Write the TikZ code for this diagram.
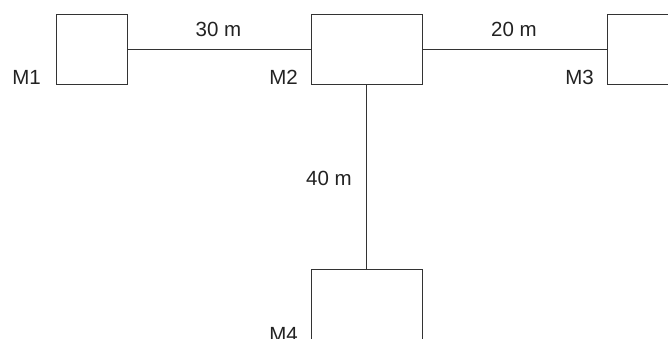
\documentclass[tikz,border=0pt]{standalone}
\usepackage{fontspec}
\setmainfont{Liberation Sans}
\definecolor{ln}{HTML}{333333}
\definecolor{tx}{HTML}{222222}
\begin{document}
\begin{tikzpicture}[x=1pt,y=-1pt,
  machine/.style={draw=ln,line width=1pt,rectangle,inner sep=0pt,minimum height=70pt},
  conn/.style={draw=ln,line width=1pt},
  lbl/.style={text=tx,font=\fontsize{20.5}{24}\selectfont,inner sep=0pt}]
\useasboundingbox (0,0) rectangle (668,339);
\node[machine,minimum width=71pt] (m1) at (91.5,50) {};
\node[machine,minimum width=111pt] (m2) at (366.5,50) {};
\node[machine,minimum width=111pt] (m3) at (662.5,50) {};
\node[machine,minimum width=111pt,minimum height=76pt] (m4) at (366.5,307) {};
\draw[conn] (m1.east) -- (m2.west);
\draw[conn] (m2.east) -- (m3.west);
\draw[conn] (m2.south) -- (m4.north);
\node[lbl,anchor=base east] (l1) at (41,85) {M1};
\node[lbl,anchor=base east] (l2) at (298,85) {M2};
\node[lbl,anchor=base east] (l3) at (594,85) {M3};
\node[lbl,anchor=base east] (l4) at (298,341) {M4};
\node[lbl,anchor=base] (d1) at (218.5,37) {30 m};
\node[lbl,anchor=base] (d2) at (514,37) {20 m};
\node[lbl,anchor=base] (d3) at (329,185) {40 m};
\end{tikzpicture}
\end{document}
